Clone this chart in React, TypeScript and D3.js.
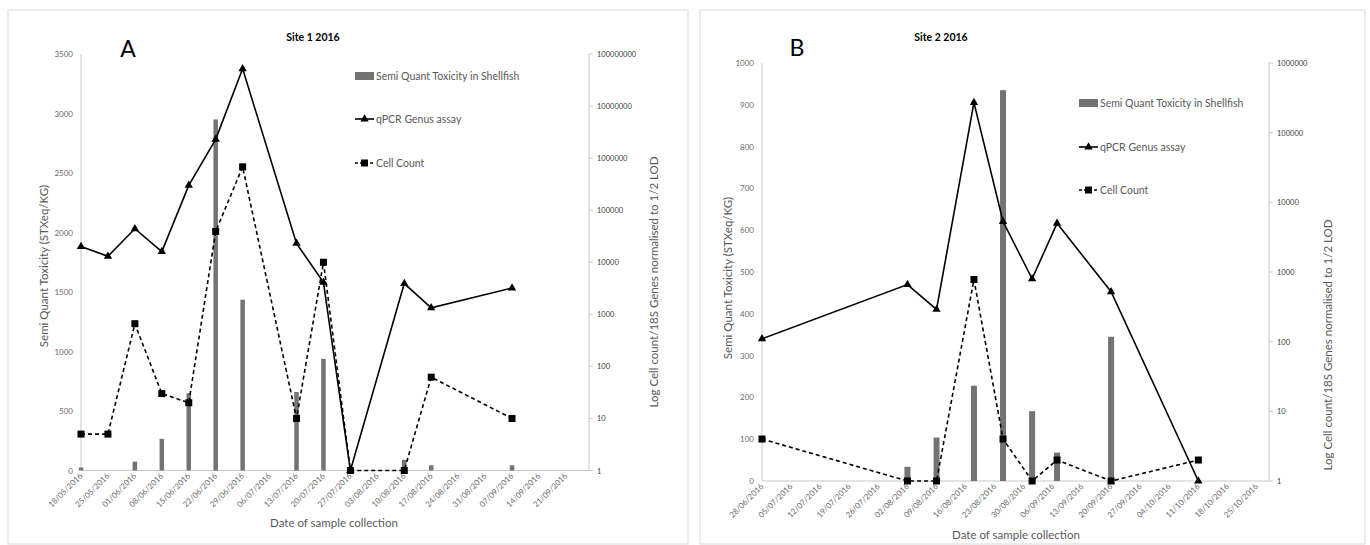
import React from "react";
import * as d3 from "d3";

// ---------- Site 1 (panel A) ----------
const siteADates = ["2016-05-18", "2016-05-25", "2016-06-01", "2016-06-08", "2016-06-15", "2016-06-22", "2016-06-29", "2016-07-13", "2016-07-20", "2016-07-27", "2016-08-10", "2016-08-17", "2016-09-07"];
const siteAToxicity = [25, 0, 75, 266, 650, 2950, 1435, 660, 938, 0, 90, 44, 44];
const siteAQpcr = [20000, 13000, 44000, 16000, 300000, 2300000, 52000000, 23000, 4100, 1, 3900, 1330, 3200];
const siteACellCount = [5, 5, 660, 30, 20, 39000, 680000, 10, 10000, 1, 1, 62, 10];
const siteAXTicks = ["2016-05-18", "2016-05-25", "2016-06-01", "2016-06-08", "2016-06-15", "2016-06-22", "2016-06-29", "2016-07-06", "2016-07-13", "2016-07-20", "2016-07-27", "2016-08-03", "2016-08-10", "2016-08-17", "2016-08-24", "2016-08-31", "2016-09-07", "2016-09-14", "2016-09-21"];
const siteALeftTicks = [0, 500, 1000, 1500, 2000, 2500, 3000, 3500];
const siteARightTicks = [1, 10, 100, 1000, 10000, 100000, 1000000, 10000000, 100000000];

// ---------- Site 2 (panel B) ----------
const siteBDates = ["2016-06-28", "2016-08-02", "2016-08-09", "2016-08-18", "2016-08-25", "2016-09-01", "2016-09-07", "2016-09-20", "2016-10-11"];
const siteBToxicity = [0, 34, 104, 228, 935, 167, 68, 345, 0];
const siteBQpcr = [110, 660, 290, 270000, 5300, 800, 5000, 520, 1];
const siteBCellCount = [4, 1, 1, 780, 4, 1, 2, 1, 2];
const siteBXTicks = ["2016-06-28", "2016-07-05", "2016-07-12", "2016-07-19", "2016-07-26", "2016-08-02", "2016-08-09", "2016-08-16", "2016-08-23", "2016-08-30", "2016-09-06", "2016-09-13", "2016-09-20", "2016-09-27", "2016-10-04", "2016-10-11", "2016-10-18", "2016-10-25"];
const siteBLeftTicks = [0, 100, 200, 300, 400, 500, 600, 700, 800, 900, 1000];
const siteBRightTicks = [1, 10, 100, 1000, 10000, 100000, 1000000];

const legendLabels = ["Semi Quant Toxicity in Shellfish", "qPCR Genus assay", "Cell Count"];
const leftAxisTitle = "Semi Quant Toxicity (STXeq/KG)";
const rightAxisTitle = "Log Cell count/18S Genes normalised to 1/2 LOD";
const xAxisTitle = "Date of sample collection";

const FONT = "Lato, 'Open Sans', sans-serif";
const parse = d3.timeParse("%Y-%m-%d");
const fmt = d3.timeFormat("%d/%m/%Y");

type Cfg = {
  frame: [number, number, number, number];
  left: number; right: number; top: number; bottom: number;
  domain: [string, string];
  leftMax: number; rightMax: number;
  dates: string[]; tox: number[]; qpcr: number[]; cell: number[];
  xTicks: string[]; leftTicks: number[]; rightTicks: number[];
  title: string; titleX: number; letter: string; letterX: number; letterY: number; letterSize: number;
  legendX: number; legendY: number[];
  barW: number;
  leftTitleX: number; leftTitleY: number;
  rightTitleX: number; rightTitleY: number;
  xTitleX: number; xTitleY: number;
};

function Panel({ c }: { c: Cfg }) {
  const x = d3.scaleTime().domain([parse(c.domain[0])!, parse(c.domain[1])!]).range([c.left, c.right]);
  const yL = d3.scaleLinear().domain([0, c.leftMax]).range([c.bottom, c.top]);
  const yR = d3.scaleLog().domain([1, c.rightMax]).range([c.bottom, c.top]);
  const pts = c.dates.map((d) => parse(d)!);
  const line = d3.line<number>().x((_, i) => x(pts[i])).y((d) => yR(d));
  const tri = d3.symbol(d3.symbolTriangle, 30)()!;
  const axisCol = "#c8c8c8";
  const txt = "#595959";
  const tick = "#6a6a6a";
  const [fx, fy, fw, fh] = c.frame;
  return (
    <g>
      <rect x={fx} y={fy} width={fw} height={fh} fill="#fff" stroke="#d9d9d9" strokeWidth={1} />
      <text x={c.titleX} y={41} textAnchor="middle" fontFamily={FONT} fontSize={10.5} fontWeight="bold" fill="#000">{c.title}</text>
      <text x={c.letterX} y={c.letterY} textAnchor="middle" fontFamily={FONT} fontSize={c.letterSize} fill="#000">{c.letter}</text>
      {/* axes */}
      <line x1={c.left} x2={c.left} y1={c.top} y2={c.bottom} stroke={axisCol} />
      <line x1={c.left} x2={c.right} y1={c.bottom} y2={c.bottom} stroke={axisCol} />
      <line x1={c.right} x2={c.right} y1={c.top} y2={c.bottom} stroke={axisCol} />
      {c.leftTicks.map((t) => (
        <text key={"l" + t} x={c.left - 8} y={yL(t) + 3} textAnchor="end" fontFamily={FONT} fontSize={8} fill={tick}>{t}</text>
      ))}
      {c.rightTicks.map((t) => (
        <g key={"r" + t}>
          <line x1={c.right} x2={c.right + 4} y1={yR(t)} y2={yR(t)} stroke={axisCol} />
          <text x={c.right + 8} y={yR(t) + 3} fontFamily={FONT} fontSize={7.5} fill="#404040">{t}</text>
        </g>
      ))}
      {c.xTicks.map((t) => {
        const px = x(parse(t)!);
        return (
          <text key={"x" + t} transform={`translate(${px + 2},${c.bottom + 6}) rotate(-45)`} textAnchor="end" fontFamily={FONT} fontSize={8} fill={tick}>{fmt(parse(t)!)}</text>
        );
      })}
      {/* bars */}
      {c.tox.map((v, i) => v > 0 ? (
        <rect key={"b" + i} x={x(pts[i]) - c.barW / 2} y={yL(v)} width={c.barW} height={c.bottom - yL(v)} fill="#737373" />
      ) : null)}
      {/* qPCR */}
      <path d={line(c.qpcr)!} fill="none" stroke="#000" strokeWidth={1.6} />
      {c.qpcr.map((v, i) => (
        <path key={"t" + i} d={tri} transform={`translate(${x(pts[i])},${yR(v)})`} fill="#000" />
      ))}
      {/* Cell count */}
      <path d={line(c.cell)!} fill="none" stroke="#000" strokeWidth={1.6} strokeDasharray="4,3" />
      {c.cell.map((v, i) => (
        <rect key={"s" + i} x={x(pts[i]) - 3.5} y={yR(v) - 3.5} width={7} height={7} fill="#000" />
      ))}
      {/* legend */}
      <rect x={c.legendX} y={c.legendY[0] - 4} width={19} height={8} fill="#737373" />
      <text x={c.legendX + 21} y={c.legendY[0] + 4} fontFamily={FONT} fontSize={10.5} fill={txt}>{legendLabels[0]}</text>
      <line x1={c.legendX} x2={c.legendX + 19} y1={c.legendY[1]} y2={c.legendY[1]} stroke="#000" strokeWidth={1.6} />
      <path d={tri} transform={`translate(${c.legendX + 9.5},${c.legendY[1]})`} fill="#000" />
      <text x={c.legendX + 21} y={c.legendY[1] + 4} fontFamily={FONT} fontSize={10.5} fill={txt}>{legendLabels[1]}</text>
      <line x1={c.legendX} x2={c.legendX + 19} y1={c.legendY[2]} y2={c.legendY[2]} stroke="#000" strokeWidth={1.6} strokeDasharray="3,2" />
      <rect x={c.legendX + 6} y={c.legendY[2] - 3.5} width={7} height={7} fill="#000" />
      <text x={c.legendX + 21} y={c.legendY[2] + 4} fontFamily={FONT} fontSize={10.5} fill={txt}>{legendLabels[2]}</text>
      {/* axis titles */}
      <text transform={`translate(${c.leftTitleX},${c.leftTitleY}) rotate(-90)`} textAnchor="middle" fontFamily={FONT} fontSize={11.5} fill={txt}>{leftAxisTitle}</text>
      <text transform={`translate(${c.rightTitleX},${c.rightTitleY}) rotate(-90)`} textAnchor="middle" fontFamily={FONT} fontSize={11.5} fill={txt}>{rightAxisTitle}</text>
      <text x={c.xTitleX} y={c.xTitleY} textAnchor="middle" fontFamily={FONT} fontSize={11.5} fill={txt}>{xAxisTitle}</text>
    </g>
  );
}

const panelA: Cfg = {
  frame: [8, 10, 680, 534],
  left: 81, right: 589, top: 54, bottom: 470.5,
  domain: ["2016-05-18", "2016-09-27"],
  leftMax: 3500, rightMax: 100000000,
  dates: siteADates, tox: siteAToxicity, qpcr: siteAQpcr, cell: siteACellCount,
  xTicks: siteAXTicks, leftTicks: siteALeftTicks, rightTicks: siteARightTicks,
  title: "Site 1 2016", titleX: 313, letter: "A", letterX: 128, letterY: 57, letterSize: 23,
  legendX: 355, legendY: [76, 119, 163], barW: 4.5,
  leftTitleX: 48, leftTitleY: 266,
  rightTitleX: 658, rightTitleY: 282,
  xTitleX: 334, xTitleY: 527,
};

const panelB: Cfg = {
  frame: [700, 10, 665, 534],
  left: 762, right: 1269, top: 63, bottom: 481,
  domain: ["2016-06-28", "2016-10-28"],
  leftMax: 1000, rightMax: 1000000,
  dates: siteBDates, tox: siteBToxicity, qpcr: siteBQpcr, cell: siteBCellCount,
  xTicks: siteBXTicks, leftTicks: siteBLeftTicks, rightTicks: siteBRightTicks,
  title: "Site 2 2016", titleX: 941, letter: "B", letterX: 797, letterY: 56, letterSize: 23,
  legendX: 1079, legendY: [103, 147, 190], barW: 6,
  leftTitleX: 732, leftTitleY: 278,
  rightTitleX: 1332, rightTitleY: 345,
  xTitleX: 1016, xTitleY: 539,
};

export default function App() {
  return (
    <svg width={1370} height={545} style={{ position: "absolute", left: 0, top: 0, background: "#fff" }}>
      <rect x={0} y={0} width={1370} height={545} fill="#fff" />
      <Panel c={panelA} />
      <Panel c={panelB} />
    </svg>
  );
}
